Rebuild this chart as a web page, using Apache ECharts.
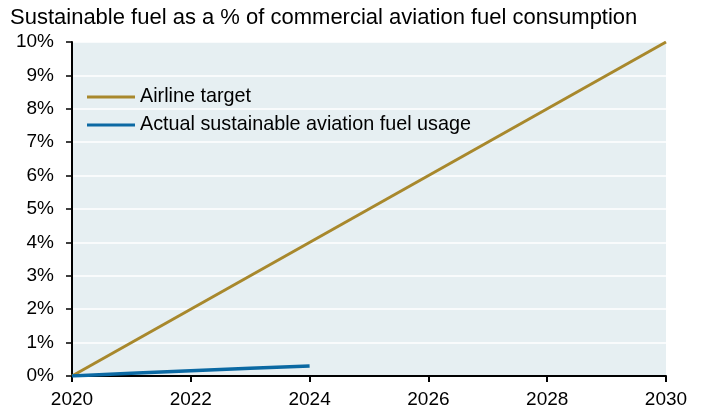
<!DOCTYPE html>
<html><head><meta charset="utf-8">
<script src="https://cdn.jsdelivr.net/npm/echarts@6/dist/echarts.min.js"></script>
<style>html,body{margin:0;padding:0;background:#fff}#c{width:702px;height:409px}</style>
</head><body><div id="c"></div>
<script>
const subtitle = 'Sustainable fuel as a % of commercial aviation fuel consumption';
const targetYears = [2020, 2030];
const targetValues = [0, 10];
const actualYears = [2020, 2021, 2022, 2023, 2024];
const actualValues = [0, 0.08, 0.16, 0.23, 0.3];
const seriesNames = ['Airline target', 'Actual sustainable aviation fuel usage'];

const font = 'Arial, "Liberation Sans", sans-serif';
const chart = echarts.init(document.getElementById('c'), null, {renderer: 'canvas'});
chart.setOption({
  animation: false,
  title: {text: subtitle, left: 10, top: 7, padding: 0, textStyle: {fontFamily: font, fontSize: 22, fontWeight: 'normal', color: '#000'}},
  grid: {left: 72, right: 36, top: 42, bottom: 31, show: true, backgroundColor: '#e6eff2', borderWidth: 0},
  legend: {
    orient: 'vertical', left: 87, top: 87, padding: 0, itemWidth: 48, itemHeight: 3, itemGap: 8, icon: 'rect',
    textStyle: {fontFamily: font, fontSize: 19.8, color: '#000'},
    data: seriesNames
  },
  xAxis: {
    type: 'value', min: 2020, max: 2030, interval: 2,
    axisLine: {lineStyle: {color: '#000', width: 2}},
    axisTick: {show: true, length: 6, lineStyle: {color: '#000', width: 2}},
    axisLabel: {fontFamily: font, fontSize: 19, color: '#000', margin: 14, formatter: v => String(v)},
    splitLine: {show: false}
  },
  yAxis: {
    type: 'value', min: 0, max: 10, interval: 1,
    axisLine: {show: true, lineStyle: {color: '#000', width: 2}},
    axisTick: {show: true, length: 6, lineStyle: {color: '#000', width: 1.5}},
    axisLabel: {fontFamily: font, fontSize: 19, color: '#000', margin: 18, formatter: '{value}%'},
    splitLine: {show: true, lineStyle: {color: '#fff', width: 1.5}}
  },
  series: [
    {name: seriesNames[0], type: 'line', data: targetYears.map((y, i) => [y, targetValues[i]]), showSymbol: false, lineStyle: {color: '#a8882c', width: 3}, itemStyle: {color: '#a8882c'}},
    {name: seriesNames[1], type: 'line', data: actualYears.map((y, i) => [y, actualValues[i]]), showSymbol: false, lineStyle: {color: '#0b69a3', width: 3.5}, itemStyle: {color: '#0b69a3'}}
  ]
});
</script></body></html>
